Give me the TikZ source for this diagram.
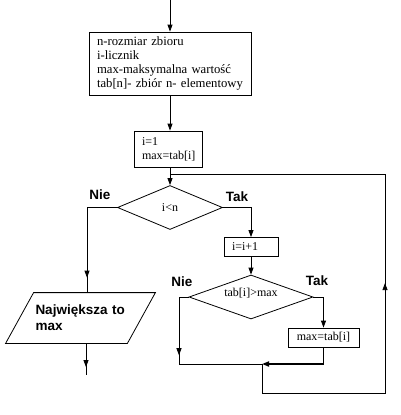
\documentclass[tikz,border=0pt]{standalone}
\usepackage{fontspec}
\setmainfont{Liberation Serif}
\setsansfont{Liberation Sans}
\usetikzlibrary{arrows.meta,shapes.geometric,decorations.markings}

\begin{document}
\begin{tikzpicture}[x=1pt,y=-1pt,>={Triangle[width=5pt,length=7pt]},line width=0.8pt,
                    every node/.style={font=\fontsize{12}{13.8}\selectfont},
                    proc node/.style={draw,rectangle,inner sep=0pt},
                    dec node/.style={draw,diamond,inner sep=0pt,aspect=2.5},
                    io node/.style={rectangle,inner sep=0pt},
                    lbl node/.style={font=\fontsize{13.5}{16}\selectfont\sffamily\bfseries},
                    midarrow/.style={postaction={decorate},decoration={markings,mark=at position #1 with {\arrow{>}}}}]
                    \useasboundingbox (0,0) rectangle (400,415);
                    \node[proc node,minimum width=162pt,minimum height=63pt,text width=146pt,align=left,
                          font=\fontsize{12.7}{13.7}\selectfont] (dane) at (170,63.5)
                        {n-rozmiar zbioru\\i-licznik\\max-maksymalna wartość\\tab[n]- zbiór n- elementowy};
                    \node[proc node,minimum width=68pt,minimum height=36pt,text width=52pt,align=left] (init) at (168,149) {i=1\\max=tab[i]};
                    \node[dec node,minimum width=105pt,minimum height=44pt] (war1) at (170,207.5) {i<n};
                    \node[proc node,minimum width=54pt,minimum height=19pt,text width=38pt,align=left] (inc) at (251,247) {i=i+1};
                    \node[dec node,minimum width=124pt,minimum height=44pt] (war2) at (251,297) {\raisebox{9pt}{tab[i]>max}};
                    \node[proc node,minimum width=71pt,minimum height=19pt] (przyp) at (323.5,337.5) {max=tab[i]};
                    \node[io node,lbl node,minimum width=121pt,minimum height=50pt,text width=90pt,align=left] (wynik) at (80.5,318)
                        {Największa to\\max};
                    \draw ([xshift=14pt]wynik.north west) -- ([xshift=14pt]wynik.north east)
                        -- ([xshift=-14pt]wynik.south east) -- ([xshift=-14pt]wynik.south west) -- cycle;
                    \node[lbl node] (nie1) at (100,194.5) {Nie};
                    \node[lbl node] (tak1) at (237,196.5) {Tak};
                    \node[lbl node] (nie2) at (182,282) {Nie};
                    \node[lbl node] (tak2) at (317,281) {Tak};

                    \coordinate (start) at (170,0);
                    \coordinate (stop) at (86,375);
                    \coordinate (rog) at (179,364);
                    \coordinate (laczenie) at (262,364);
                    \coordinate (dolny) at (385,393);
                    \coordinate (gorny) at (385,174);
                    \coordinate (powrot) at (170,174);

                    \draw[->] (start) -- (dane.north);
                    \draw[->] (dane.south) -- (dane.south |- init.north);
                    \draw[->] (dane.south |- init.south) -- (war1.north);
                    \draw[midarrow=0.87] (war1.west) -| ([xshift=6.5pt]wynik.north);
                    \draw[midarrow=0.75] ([xshift=5.5pt]wynik.south) -- (stop);
                    \draw[->] (war1.east) -| (inc.north);
                    \draw[->] (inc.south) -- (war2.north);
                    \draw[->] (war2.east) -| (przyp.north);
                    \draw[midarrow=0.425] (war2.west) -| (rog) -- (laczenie);
                    \draw (przyp.south) -- (przyp.south |- laczenie);
                    \draw[->,line width=1.6pt] (przyp.south |- laczenie) -- (laczenie);
                    \draw[midarrow=0.447] (laczenie) |- (dolny) -- (gorny) -- (powrot);
\end{tikzpicture}
\end{document}
